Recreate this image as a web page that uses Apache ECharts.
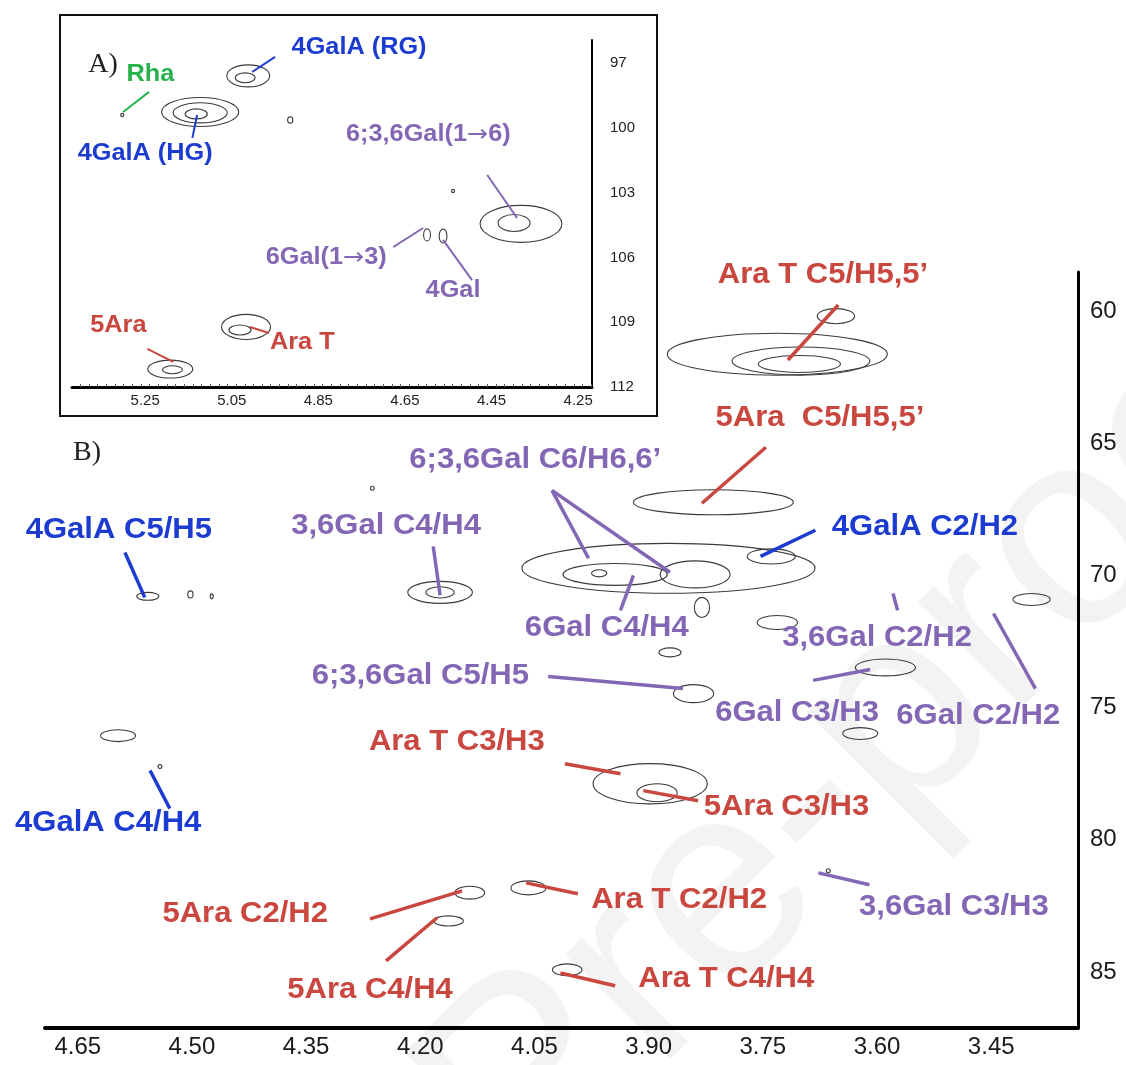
<!DOCTYPE html>
<html>
<head>
<meta charset="utf-8">
<script src="https://cdn.jsdelivr.net/npm/echarts@6/dist/echarts.min.js"></script>
<style>
html, body { margin: 0; padding: 0; background: #fff; }
#chart { width: 1126px; height: 1065px; }
</style>
</head>
<body>
<div id="chart"></div>
<script>
// ---------- panel B: main HSQC region (1H ppm, 13C ppm) ----------
const xTicksB = [4.65, 4.50, 4.35, 4.20, 4.05, 3.90, 3.75, 3.60, 3.45];
const yTicksB = [60, 65, 70, 75, 80, 85];

// contour levels: [1H, 13C, width 1H, height 13C]
const peaksB = [
  [3.731, 61.63, 0.289, 1.59], [3.700, 61.89, 0.181, 1.06], [3.702, 62.00, 0.108, 0.64],
  [3.654, 60.19, 0.049, 0.57],
  [3.815, 67.23, 0.210, 0.95],
  [3.874, 69.73, 0.385, 1.89], [3.944, 69.96, 0.137, 0.83], [3.839, 69.96, 0.092, 1.02],
  [3.965, 69.92, 0.020, 0.27], [3.739, 69.28, 0.063, 0.57], [3.830, 71.21, 0.020, 0.76],
  [4.174, 70.64, 0.085, 0.83], [4.174, 70.64, 0.037, 0.42],
  [4.558, 70.79, 0.029, 0.30], [4.502, 70.72, 0.007, 0.27], [4.474, 70.79, 0.004, 0.19],
  [4.263, 66.70, 0.005, 0.15],
  [3.731, 71.78, 0.053, 0.53], [3.872, 72.91, 0.029, 0.34], [3.841, 74.47, 0.053, 0.68],
  [3.589, 73.48, 0.079, 0.64], [3.397, 70.91, 0.049, 0.45], [3.622, 75.98, 0.046, 0.45],
  [4.597, 76.06, 0.046, 0.45], [4.542, 77.23, 0.005, 0.15],
  [3.898, 77.88, 0.150, 1.52], [3.889, 78.22, 0.053, 0.68],
  [4.135, 82.00, 0.039, 0.49], [4.163, 83.07, 0.039, 0.38], [4.058, 81.82, 0.046, 0.53],
  [4.007, 84.92, 0.039, 0.45], [3.664, 81.17, 0.005, 0.15]
];

// leader lines: [1H label end, 13C label end, 1H peak end, 13C peak end]
const leadersB = [
  [3.651, 59.77, 3.717, 61.85], [3.746, 65.15, 3.830, 67.27],
  [4.027, 66.78, 3.979, 69.35], [4.027, 66.78, 3.872, 69.88],
  [3.681, 68.29, 3.753, 69.28], [4.183, 68.90, 4.174, 70.75],
  [4.588, 69.13, 4.562, 70.83], [3.937, 71.32, 3.920, 70.00],
  [3.579, 70.68, 3.573, 71.32], [4.032, 73.82, 3.855, 74.28],
  [3.684, 73.97, 3.609, 73.56], [3.447, 71.44, 3.392, 74.28],
  [4.010, 77.12, 3.937, 77.50], [3.907, 78.14, 3.835, 78.52],
  [4.555, 77.38, 4.529, 78.82], [4.266, 82.99, 4.145, 81.93],
  [4.245, 84.58, 4.178, 82.95], [3.993, 82.04, 4.061, 81.63],
  [3.944, 85.52, 4.016, 85.04], [3.610, 81.70, 3.677, 81.25]
];
const leaderGroupB = ['ara', 'ara', 'gal', 'gal', 'galA', 'gal', 'galA', 'gal', 'gal', 'gal',
  'gal', 'gal', 'ara', 'ara', 'galA', 'ara', 'ara', 'ara', 'ara', 'gal'];

const labelTextB = ['Ara T C5/H5,5’', '5Ara  C5/H5,5’', '6;3,6Gal C6/H6,6’', '4GalA C2/H2',
  '3,6Gal C4/H4', '4GalA C5/H5', '6Gal C4/H4', '3,6Gal C2/H2', '6;3,6Gal C5/H5',
  '6Gal C3/H3', '6Gal C2/H2', 'Ara T C3/H3', '5Ara C3/H3', '4GalA C4/H4',
  '5Ara C2/H2', '5Ara C4/H4', 'Ara T C2/H2', 'Ara T C4/H4', '3,6Gal C3/H3'];
const labelGroupB = ['ara', 'ara', 'gal', 'galA', 'gal', 'galA', 'gal', 'gal', 'gal',
  'gal', 'gal', 'ara', 'ara', 'galA', 'ara', 'ara', 'ara', 'ara', 'gal'];
const labelPosB = [
  [3.671, 58.63], [3.675, 64.05], [4.049, 65.64], [3.537, 68.18], [4.245, 68.14],
  [4.596, 68.29], [3.955, 72.00], [3.600, 72.35], [4.200, 73.82], [3.705, 75.19],
  [3.467, 75.30], [4.152, 76.29], [3.719, 78.75], [4.610, 79.35], [4.430, 82.80],
  [4.266, 85.68], [3.860, 82.27], [3.798, 85.26], [3.499, 82.54]
];

// ---------- panel A: anomeric region ----------
const xTicksA = [5.25, 5.05, 4.85, 4.65, 4.45, 4.25];
const yTicksA = [97, 100, 103, 106, 109, 112];

const peaksA = [
  [5.012, 97.60, 0.099, 1.02], [5.019, 97.69, 0.046, 0.46],
  [5.123, 99.27, 0.178, 1.34], [5.123, 99.31, 0.125, 0.93], [5.132, 99.36, 0.051, 0.46],
  [5.303, 99.41, 0.007, 0.15], [4.915, 99.64, 0.012, 0.30],
  [4.382, 104.45, 0.189, 1.71], [4.398, 104.41, 0.074, 0.79], [4.539, 102.93, 0.007, 0.15],
  [4.599, 104.96, 0.016, 0.56], [4.562, 105.01, 0.018, 0.65],
  [5.017, 109.22, 0.113, 1.16], [5.031, 109.36, 0.051, 0.46],
  [5.192, 111.17, 0.104, 0.83], [5.187, 111.20, 0.046, 0.37]
];
const leadersA = [
  [5.241, 98.34, 5.301, 99.27], [4.950, 96.72, 5.003, 97.42],
  [5.141, 100.47, 5.130, 99.41], [4.460, 102.19, 4.391, 104.18],
  [4.677, 105.52, 4.608, 104.64], [4.495, 107.05, 4.562, 105.19],
  [5.245, 110.24, 5.185, 110.84], [4.964, 109.50, 5.008, 109.22]
];
const leaderGroupA = ['rha', 'galA', 'galA', 'gal', 'gal', 'gal', 'ara', 'ara'];
const labelTextA = ['Rha', '4GalA (RG)', '4GalA (HG)', '6;3,6Gal(1{arr|→}6)', '6Gal(1{arr|→}3)', '4Gal', '5Ara', 'Ara T'];
const labelGroupA = ['rha', 'galA', 'galA', 'gal', 'gal', 'gal', 'ara', 'ara'];
const labelPosA = [
  [5.238, 97.56], [4.756, 96.31], [5.250, 101.21], [4.596, 100.33],
  [4.832, 106.03], [4.539, 107.56], [5.312, 109.18], [4.887, 109.96]
];

const colors = { ara: '#c9473f', galA: '#1c3bd0', gal: '#8467b4', rha: '#27b24e' };
const SANS = '"Liberation Sans", Arial, Helvetica, sans-serif';

function contourItem(params, api) {
  const c = api.coord([api.value(0), api.value(1)]);
  const s = api.size([api.value(2), api.value(3)]);
  return {
    type: 'ellipse',
    shape: { cx: c[0], cy: c[1], rx: Math.max(s[0] / 2, 1.2), ry: Math.max(s[1] / 2, 1.2) },
    style: { fill: 'none', stroke: '#3a3a3a', lineWidth: 1.1 }
  };
}

function leaderItem(groups, width) {
  return function (params, api) {
    const a = api.coord([api.value(0), api.value(1)]);
    const b = api.coord([api.value(2), api.value(3)]);
    return {
      type: 'line',
      shape: { x1: a[0], y1: a[1], x2: b[0], y2: b[1] },
      style: { stroke: colors[groups[params.dataIndex]], lineWidth: width }
    };
  };
}

function labelItem(texts, groups, size, sx) {
  return function (params, api) {
    const p = api.coord([api.value(0), api.value(1)]);
    const col = colors[groups[params.dataIndex]];
    return {
      type: 'text', x: p[0], y: p[1], scaleX: sx,
      style: {
        text: texts[params.dataIndex], fill: col,
        font: 'bold ' + size + 'px ' + SANS, align: 'center', verticalAlign: 'middle',
        rich: {
          arr: { fontFamily: '"DejaVu Sans", sans-serif', fontWeight: 'normal', fontSize: size, color: col }
        }
      }
    };
  };
}

const minorA = Array.from({ length: 61 }, (_, i) => +(4.22 + i * 0.02).toFixed(2));

const chart = echarts.init(document.getElementById('chart'), null, { renderer: 'canvas' });
chart.setOption({
  animation: false,
  backgroundColor: '#fff',
  grid: [
    { left: 45, top: 272, width: 1033, height: 756, outerBoundsMode: 'none' },
    { left: 72, top: 40, width: 520, height: 347, outerBoundsMode: 'none' }
  ],
  xAxis: [
    {
      type: 'value', gridIndex: 0, inverse: true, min: 3.336, max: 4.693,
      axisLine: { onZero: false, lineStyle: { color: '#000', width: 4 } },
      axisTick: { show: false }, splitLine: { show: false },
      axisLabel: {
        customValues: xTicksB, formatter: v => v.toFixed(2), margin: 7,
        fontSize: 24, color: '#1a1a1a', fontFamily: SANS
      }
    },
    {
      type: 'value', gridIndex: 1, inverse: true, min: 4.218, max: 5.419,
      axisLine: { onZero: false, lineStyle: { color: '#000', width: 3 } },
      axisTick: { show: true, inside: true, length: 3, customValues: minorA, lineStyle: { color: '#555', width: 1 } },
      splitLine: { show: false },
      axisLabel: {
        customValues: xTicksA, formatter: v => v.toFixed(2), margin: 6,
        fontSize: 15, color: '#222', fontFamily: SANS
      }
    }
  ],
  yAxis: [
    {
      type: 'value', gridIndex: 0, position: 'right', inverse: true, min: 58.52, max: 87.12,
      axisLine: { show: true, onZero: false, lineStyle: { color: '#000', width: 3 } },
      axisTick: { show: false }, splitLine: { show: false },
      axisLabel: { customValues: yTicksB, margin: 12, fontSize: 24, color: '#1a1a1a', fontFamily: SANS }
    },
    {
      type: 'value', gridIndex: 1, position: 'right', inverse: true, min: 95.94, max: 112.0,
      axisLine: { show: true, onZero: false, lineStyle: { color: '#000', width: 2 } },
      axisTick: { show: false }, splitLine: { show: false },
      axisLabel: { customValues: yTicksA, margin: 18, fontSize: 15, color: '#222', fontFamily: SANS }
    }
  ],
  graphic: [
    {
      type: 'text', x: 470, y: 1150, rotation: Math.PI / 4, z: -10, silent: true,
      style: { text: 'Pre-proof', font: '280px ' + SANS, fill: '#f3f3f3', verticalAlign: 'middle' }
    },
    {
      type: 'rect', shape: { x: 60, y: 15, width: 597, height: 401 }, z: 1, silent: true,
      style: { fill: 'none', stroke: '#111', lineWidth: 2 }
    },
    {
      type: 'text', x: 103, y: 65, z: 5,
      style: { text: 'A)', font: '28px "Liberation Serif", "Times New Roman", serif', fill: '#222', align: 'center', verticalAlign: 'middle' }
    },
    {
      type: 'text', x: 87, y: 453, z: 5,
      style: { text: 'B)', font: '28px "Liberation Serif", "Times New Roman", serif', fill: '#222', align: 'center', verticalAlign: 'middle' }
    }
  ],
  series: [
    { type: 'custom', xAxisIndex: 0, yAxisIndex: 0, silent: true, clip: false, encode: { x: 0, y: 1 }, data: peaksB, renderItem: contourItem },
    { type: 'custom', xAxisIndex: 0, yAxisIndex: 0, silent: true, clip: false, encode: { x: [0, 2], y: [1, 3] }, data: leadersB, renderItem: leaderItem(leaderGroupB, 3.5) },
    { type: 'custom', xAxisIndex: 0, yAxisIndex: 0, silent: true, clip: false, encode: { x: 0, y: 1 }, data: labelPosB, renderItem: labelItem(labelTextB, labelGroupB, 29, 1.07) },
    { type: 'custom', xAxisIndex: 1, yAxisIndex: 1, silent: true, clip: false, encode: { x: 0, y: 1 }, data: peaksA, renderItem: contourItem },
    { type: 'custom', xAxisIndex: 1, yAxisIndex: 1, silent: true, clip: false, encode: { x: [0, 2], y: [1, 3] }, data: leadersA, renderItem: leaderItem(leaderGroupA, 2) },
    { type: 'custom', xAxisIndex: 1, yAxisIndex: 1, silent: true, clip: false, encode: { x: 0, y: 1 }, data: labelPosA, renderItem: labelItem(labelTextA, labelGroupA, 23, 1.1) }
  ]
});
window.addEventListener('resize', () => chart.resize());
</script>
</body>
</html>
